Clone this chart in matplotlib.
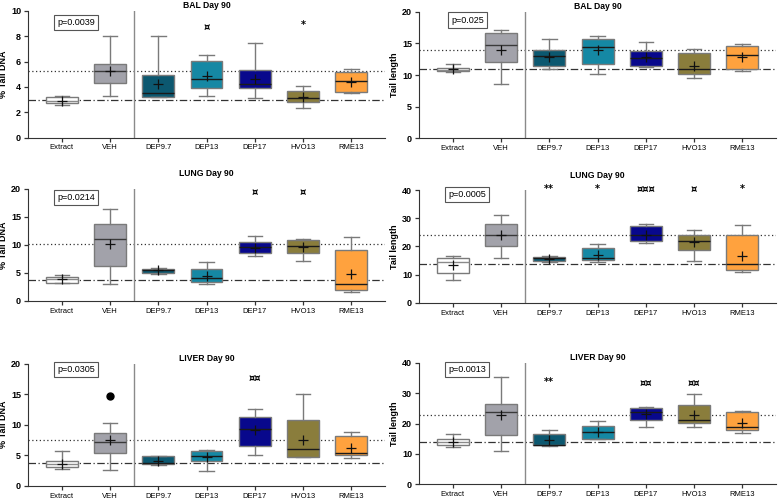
import matplotlib
matplotlib.use("Agg")
import matplotlib.pyplot as plt

plt.rcParams['font.family'] = ['Liberation Sans', 'DejaVu Sans']

groups = ["Extract", "VEH", "DEP9.7", "DEP13", "DEP17", "HVO13", "RME13"]
face_colors = ["#ffffff", "#a2a2aa", "#0c5870", "#1588a4", "#08088c", "#8a7d3c", "#ffa23e"]
median_colors = ["#8a8a8a", "#3a3a3a", "#1a1a1a", "#1a1a1a", "#1a1a1a", "#1a1a1a", "#1a1a1a"]

# each row: whisker low, q1, median, q3, whisker high, mean
bal_dna = [
  [2.55, 2.7, 2.9, 3.2, 3.3, 2.9],
  [3.27, 4.27, 5.28, 5.8, 8.0, 5.22],
  [3.22, 3.22, 3.48, 4.93, 8.0, 4.2],
  [3.27, 3.88, 4.64, 6.07, 6.5, 4.85],
  [3.14, 3.88, 4.22, 5.36, 7.5, 4.62],
  [2.37, 2.77, 3.12, 3.7, 4.06, 3.17],
  [3.48, 3.59, 4.46, 5.15, 5.38, 4.42],
]
bal_len = [
  [10.47, 10.58, 10.8, 11.05, 11.68, 10.9],
  [8.53, 12.0, 14.74, 16.6, 17.1, 14.0],
  [10.9, 11.47, 12.95, 13.9, 15.7, 12.9],
  [10.2, 11.7, 14.5, 15.7, 16.2, 13.9],
  [11.3, 11.47, 12.74, 13.8, 15.26, 12.8],
  [9.47, 10.16, 10.9, 13.5, 14.16, 11.5],
  [10.63, 10.9, 13.1, 14.63, 14.95, 12.85],
]
lung_dna = [
  [3.15, 3.15, 3.9, 4.35, 4.58, 4.0],
  [3.04, 6.2, 11.0, 13.7, 16.5, 10.1],
  [4.76, 5.06, 5.48, 5.77, 5.95, 5.48],
  [3.04, 3.45, 4.05, 5.71, 6.9, 4.52],
  [8.04, 8.63, 9.58, 10.6, 11.67, 9.5],
  [7.14, 8.5, 9.82, 10.95, 11.13, 9.58],
  [1.55, 1.9, 3.04, 9.17, 11.37, 4.76],
]
lung_len = [
  [7.9, 10.5, 14.45, 15.9, 16.5, 13.5],
  [15.8, 20.2, 24.1, 28.1, 31.3, 24.0],
  [14.3, 14.9, 15.8, 16.4, 16.7, 15.5],
  [14.3, 15.2, 15.8, 19.3, 20.7, 17.0],
  [21.25, 22.0, 23.9, 27.2, 28.1, 24.2],
  [14.8, 18.75, 22.0, 24.1, 26.0, 21.5],
  [11.0, 11.6, 13.7, 24.0, 27.7, 16.6],
]
liver_dna = [
  [2.68, 3.0, 3.5, 4.1, 5.63, 3.6],
  [2.5, 5.35, 7.1, 8.63, 10.2, 7.45],
  [3.39, 3.6, 3.75, 4.92, 4.92, 4.1],
  [2.35, 3.99, 4.86, 5.68, 5.85, 4.7],
  [5.08, 6.56, 9.23, 11.3, 12.5, 9.1],
  [4.64, 4.75, 5.96, 10.76, 15.0, 7.43],
  [4.48, 4.97, 5.41, 8.14, 8.74, 6.12],
]
liver_len = [
  [12.2, 12.86, 14.07, 14.95, 16.6, 14.07],
  [11.1, 16.15, 23.85, 26.5, 35.5, 22.75],
  [12.5, 12.86, 13.1, 16.5, 17.9, 14.6],
  [14.8, 15.05, 17.25, 19.2, 20.9, 17.25],
  [18.8, 21.2, 23.96, 25.05, 25.4, 23.2],
  [19.0, 20.1, 21.1, 26.15, 29.7, 22.86],
  [16.8, 17.9, 18.8, 23.96, 24.2, 20.3],
]
liver_dna_outliers = {1: [14.75]}

# reference lines: (VEH mean, Extract mean)
ref_lines = {
  "bal_dna": (5.22, 2.95), "bal_len": (14.0, 10.9),
  "lung_dna": (10.12, 3.81), "lung_len": (23.9, 13.6),
  "liver_dna": (7.43, 3.66), "liver_len": (22.75, 13.96),
}
p_values = {
  "bal_dna": "p=0.0039", "bal_len": "p=0.025",
  "lung_dna": "p=0.0214", "lung_len": "p=0.0005",
  "liver_dna": "p=0.0305", "liver_len": "p=0.0013",
}
# significance marks: {group index: (text, y)}
marks = {
  "bal_dna": {3: ("¤", 8.75), 5: ("*", 8.9)},
  "bal_len": {},
  "lung_dna": {4: ("¤", 19.4), 5: ("¤", 19.4)},
  "lung_len": {2: ("**", 40.3), 3: ("*", 40.3), 4: ("¤¤¤", 40.3), 5: ("¤", 40.3), 6: ("*", 40.3)},
  "liver_dna": {4: ("¤¤", 17.6)},
  "liver_len": {2: ("**", 33.8), 4: ("¤¤", 33.3), 5: ("¤¤", 33.3)},
}

panels = [
  ("bal_dna", bal_dna, "BAL Day 90", "% Tail DNA", 10, 2, [0.036, 0.725, 0.459, 0.253], 9.1, 2),
  ("bal_len", bal_len, "BAL Day 90", "Tail length", 20, 5, [0.5386, 0.7234, 0.459, 0.253], 18.7, 2),
  ("lung_dna", lung_dna, "LUNG Day 90", "% Tail DNA", 20, 5, [0.036, 0.398, 0.459, 0.224], 18.5, 9),
  ("lung_len", lung_len, "LUNG Day 90", "Tail length", 40, 10, [0.5386, 0.3946, 0.459, 0.225], 38.4, 9),
  ("liver_dna", liver_dna, "LIVER Day 90", "% Tail DNA", 20, 5, [0.036, 0.0286, 0.459, 0.244], 19.1, 2),
  ("liver_len", liver_len, "LIVER Day 90", "Tail length", 40, 10, [0.5386, 0.0314, 0.459, 0.2426], 37.9, 2),
]

fig = plt.figure(figsize=(7.78, 5.0), dpi=100)

for key, rows, title, ylabel, ymax, ystep, rect, p_y, title_pad in panels:
  ax = fig.add_axes(rect)
  stats = []
  for i, r in enumerate(rows):
    fliers = liver_dna_outliers.get(i, []) if key == "liver_dna" else []
    stats.append(dict(whislo=r[0], q1=r[1], med=r[2], q3=r[3], whishi=r[4], mean=r[5], fliers=fliers))
  bp = ax.bxp(stats, positions=range(len(groups)), widths=0.66, patch_artist=True,
              showmeans=True, showfliers=True,
              boxprops=dict(edgecolor="#7a7a7a", linewidth=1.0),
              whiskerprops=dict(color="#7a7a7a", linewidth=1.0),
              capprops=dict(color="#7a7a7a", linewidth=1.0),
              medianprops=dict(color="#1a1a1a", linewidth=1.0),
              meanprops=dict(marker="+", markeredgecolor="#111111", markersize=7, markeredgewidth=0.9),
              flierprops=dict(marker="o", markerfacecolor="black", markeredgecolor="black", markersize=5))
  for patch, c in zip(bp["boxes"], face_colors):
    patch.set_facecolor(c)
  for med, c in zip(bp["medians"], median_colors):
    med.set_color(c)
  for cap in bp["caps"]:
    x0, x1 = cap.get_xdata()
    xm = (x0 + x1) / 2
    cap.set_xdata([xm - 0.15, xm + 0.15])

  dotted, dashdot = ref_lines[key]
  ax.axhline(dotted, color="#333333", linestyle=(0, (1, 2)), linewidth=0.9, zorder=1)
  ax.axhline(dashdot, color="#333333", linestyle=(0, (6, 2, 1, 2)), linewidth=0.9, zorder=1)
  ax.axvline(1.5, color="#8a8a8a", linewidth=1.0)

  for i, (txt, y) in marks[key].items():
    ax.text(i, y, txt, ha="center", va="center", fontsize=7, fontweight="bold",
            family=["DejaVu Sans"], clip_on=False)

  ax.text(0.3, p_y, p_values[key], ha="center", va="center", fontsize=6.5,
          bbox=dict(boxstyle="square,pad=0.35", facecolor="white", edgecolor="#555555", linewidth=0.8))

  ax.set_xlim(-0.7, 6.7)
  ax.set_ylim(0, ymax)
  ax.set_yticks(range(0, ymax + 1, ystep))
  ax.set_xticks(range(len(groups)))
  ax.set_xticklabels(groups, fontsize=5.5)
  for lbl in ax.get_yticklabels():
    lbl.set_fontweight("bold")
    lbl.set_fontsize(6.5)
  ax.set_ylabel(ylabel, fontsize=6.5, fontweight="bold")
  ax.yaxis.set_label_coords(-0.056, 0.5)
  ax.set_title(title, fontsize=6.2, fontweight="bold", pad=title_pad)
  ax.spines["top"].set_visible(False)
  ax.spines["right"].set_visible(False)
  ax.spines["left"].set_color("#333333")
  ax.spines["bottom"].set_color("#333333")
  ax.tick_params(axis="both", length=3, width=0.9, pad=2, color="#333333")

fig.savefig("out.png", dpi=100)
